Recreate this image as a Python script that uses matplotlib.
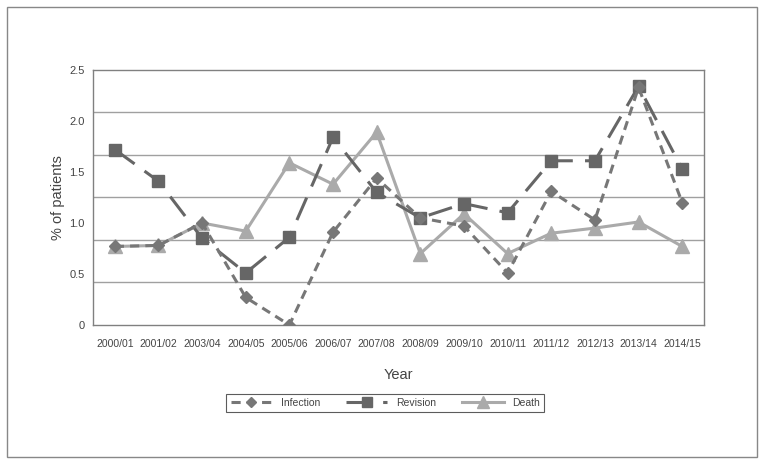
import matplotlib.pyplot as plt
from matplotlib.patches import Rectangle

plt.rcParams['font.family'] = ['Liberation Sans', 'DejaVu Sans']

years = ['2000/01', '2001/02', '2003/04', '2004/05', '2005/06', '2006/07', '2007/08',
         '2008/09', '2009/10', '2010/11', '2011/12', '2012/13', '2013/14', '2014/15']
infection = [0.77, 0.78, 1.0, 0.27, 0.0, 0.91, 1.44, 1.05, 0.97, 0.51, 1.31, 1.03, 2.33, 1.2]
revision = [1.72, 1.41, 0.85, 0.51, 0.86, 1.84, 1.30, 1.05, 1.19, 1.10, 1.61, 1.61, 2.34, 1.53]
death = [0.77, 0.78, 1.0, 0.92, 1.59, 1.38, 1.89, 0.70, 1.09, 0.70, 0.90, 0.95, 1.01, 0.77]
y_ticks = [0, 0.5, 1.0, 1.5, 2.0, 2.5]
y_labels = ['0', '0.5', '1.0', '1.5', '2.0', '2.5']

fig = plt.figure(figsize=(7.64, 4.66), dpi=100)
fig.patches.append(Rectangle((0.009, 0.019), 0.982, 0.965, transform=fig.transFigure,
                             fill=False, edgecolor='#888888', linewidth=1.0))

ax = fig.add_axes([0.1217, 0.3026, 0.7998, 0.5472])
x = list(range(len(years)))

# grid lines in the original sit at sixths of the axis, not at the labels
for k in range(1, 6):
    ax.axhline(2.5 * k / 6, color='#a0a0a0', linewidth=1.0, zorder=1)

ax.plot(x, death, color='#aaaaaa', linewidth=2.2, marker='^', markersize=10,
        label='Death', zorder=3)
ax.plot(x, revision, color='#666666', linewidth=2.2, marker='s', markersize=9,
        dashes=(8, 4), label='Revision', zorder=4)
ax.plot(x, infection, color='#777777', linewidth=2.2, marker='D', markersize=6,
        dashes=(3, 2), label='Infection', zorder=5)

ax.set_xlim(-0.5, 13.5)
ax.set_ylim(0, 2.5)
ax.set_xticks(x)
ax.set_xticklabels(years, fontsize=7.5, color='#444444')
ax.set_yticks(y_ticks)
ax.set_yticklabels(y_labels, fontsize=8, color='#444444')
ax.tick_params(axis='x', length=0, pad=10)
ax.tick_params(axis='y', length=0, pad=6)
for s in ax.spines.values():
    s.set_color('#808080')
    s.set_linewidth(1.0)

ax.set_ylabel('% of patients', fontsize=10.5, color='#444444', labelpad=3)
ax.set_xlabel('Year', fontsize=10.5, color='#444444', labelpad=14)

handles, labels = ax.get_legend_handles_labels()
order = [2, 1, 0]
leg = fig.legend([handles[i] for i in order], [labels[i] for i in order],
                 loc='center', bbox_to_anchor=(0.504, 0.135), ncol=3, fontsize=7.5,
                 frameon=True, fancybox=False, edgecolor='#333333', handlelength=4,
                 columnspacing=2.5, borderpad=0.4, markerscale=0.8)
leg.get_frame().set_linewidth(0.8)
for t in leg.get_texts():
    t.set_color('#444444')

fig.savefig('out.png', dpi=100)
